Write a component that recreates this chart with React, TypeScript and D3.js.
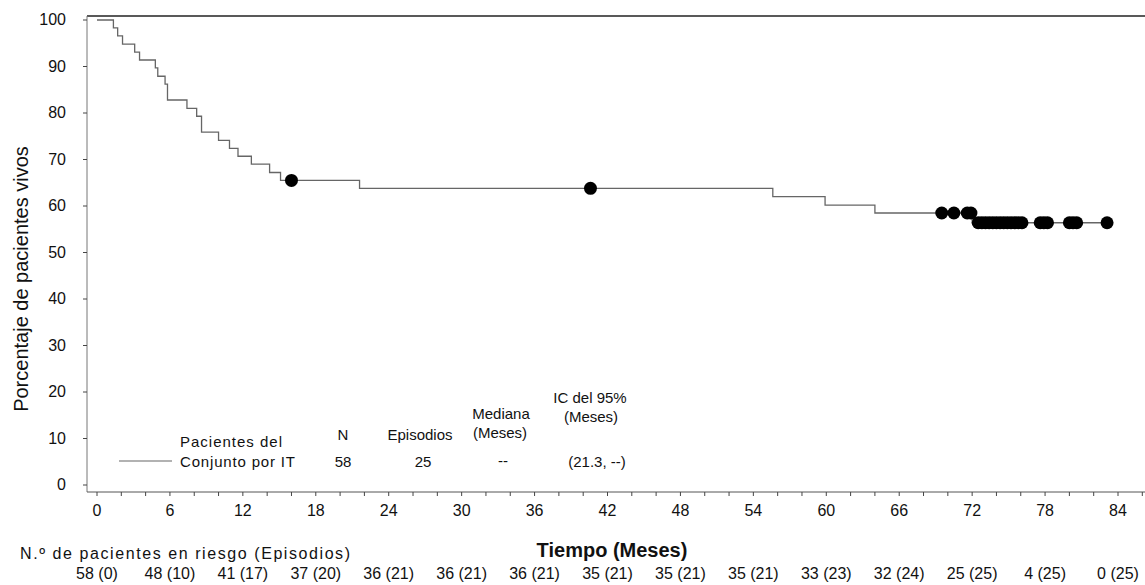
import * as d3 from 'd3'

// Kaplan-Meier steps (time in months, % alive after the drop)
const stepTimes = [0, 1.35, 1.7, 2.1, 3.1, 3.5, 4.8, 5.0, 5.6, 5.8, 7.4, 8.2, 8.6, 10.0, 10.9, 11.6, 12.7, 14.2, 15.1, 21.6, 55.6, 59.9, 64.0, 72.0]
const stepSurvival = [100, 98.3, 96.6, 94.8, 93.1, 91.4, 89.7, 87.9, 86.2, 82.8, 81.0, 79.3, 75.9, 74.1, 72.4, 70.7, 69.0, 67.2, 65.5, 63.8, 62.0, 60.2, 58.5, 56.4]
const lastFollowUp = 83.1

// censored patients
const censorTimes = [16.0, 40.6, 69.5, 70.5, 71.6, 71.9, 72.5, 72.8, 73.1, 73.4, 73.7, 74.0, 74.3, 74.6, 74.9, 75.2, 75.5, 75.8, 76.1, 77.6, 77.9, 78.2, 80.0, 80.3, 80.6, 83.1]

const xTicks = [0, 6, 12, 18, 24, 30, 36, 42, 48, 54, 60, 66, 72, 78, 84]
const yTicks = [0, 10, 20, 30, 40, 50, 60, 70, 80, 90, 100]
const atRisk = ['58 (0)', '48 (10)', '41 (17)', '37 (20)', '36 (21)', '36 (21)', '36 (21)', '35 (21)', '35 (21)', '35 (21)', '33 (23)', '32 (24)', '25 (25)', '4 (25)', '0 (25)']

const FONT = '"Liberation Sans", Arial, sans-serif'

export default function App() {
  const x = d3.scaleLinear().domain([0, 84]).range([97, 1118])
  const y = d3.scaleLinear().domain([0, 100]).range([485, 20])

  const left = 87, right = 1145, top = 16, bottom = 492

  const survAt = (t: number) => {
    const i = d3.bisectRight(stepTimes, t) - 1
    return stepSurvival[Math.max(0, i)]
  }

  const pts: [number, number][] = stepTimes.map((t, i) => [t, stepSurvival[i]])
  pts.push([lastFollowUp, stepSurvival[stepSurvival.length - 1]])
  const line = d3.line<[number, number]>()
    .x(d => x(d[0]))
    .y(d => y(d[1]))
    .curve(d3.curveStepAfter)

  const minorX = d3.range(0, 87, 2)

  return (
    <svg width={1145} height={585} style={{ position: 'fixed', left: 0, top: 0, background: '#fff' }} fontFamily={FONT}>
      {/* frame */}
      <line x1={left} x2={right} y1={top} y2={top} stroke="#222" strokeWidth={1.6} />
      <line x1={left} x2={left} y1={top} y2={bottom} stroke="#777" strokeWidth={1} />
      <line x1={left} x2={right} y1={bottom} y2={bottom} stroke="#555" strokeWidth={1} />

      {/* y axis */}
      {yTicks.map(t => (
        <g key={'y' + t}>
          <line x1={left - 4} x2={left} y1={y(t)} y2={y(t)} stroke="#444" />
          <text x={66} y={y(t) + 5} textAnchor="end" fontSize={16} fill="#111">{t}</text>
        </g>
      ))}
      <text transform={`translate(28,279) rotate(-90)`} textAnchor="middle" fontSize={20} fill="#111">Porcentaje de pacientes vivos</text>

      {/* x axis */}
      {minorX.map(t => (
        <line key={'m' + t} x1={x(t)} x2={x(t)} y1={bottom} y2={bottom + 4} stroke="#444" />
      ))}
      {xTicks.map(t => (
        <text key={'x' + t} x={x(t)} y={516} textAnchor="middle" fontSize={16} fill="#111">{t}</text>
      ))}
      <text x={612} y={557} textAnchor="middle" fontSize={20} fontWeight="bold" fill="#111">Tiempo (Meses)</text>
      <text x={20} y={559} fontSize={16} fill="#111" textLength={330} lengthAdjust="spacing">N.º de pacientes en riesgo (Episodios)</text>
      {atRisk.map((s, i) => (
        <text key={'r' + i} x={x(xTicks[i])} y={579} textAnchor="middle" fontSize={16} fill="#111">{s}</text>
      ))}

      {/* curve */}
      <path d={line(pts) ?? ''} fill="none" stroke="#666" strokeWidth={1.3} />
      {censorTimes.map((t, i) => (
        <circle key={'c' + i} cx={x(t)} cy={y(survAt(t))} r={6.5} fill="#000" />
      ))}

      {/* legend */}
      <g fontSize={15} fill="#111">
        <line x1={119} x2={172} y1={461} y2={461} stroke="#666" strokeWidth={1.2} />
        <text x={180} y={447} textLength={102} lengthAdjust="spacing">Pacientes del</text>
        <text x={180} y={467} textLength={115} lengthAdjust="spacing">Conjunto por IT</text>
        <text x={343} y={440} textAnchor="middle">N</text>
        <text x={343} y={467} textAnchor="middle">58</text>
        <text x={420} y={440} textAnchor="middle">Episodios</text>
        <text x={423} y={467} textAnchor="middle">25</text>
        <text x={501} y={419} textAnchor="middle">Mediana</text>
        <text x={500} y={438} textAnchor="middle">(Meses)</text>
        <text x={503} y={466} textAnchor="middle">--</text>
        <text x={590} y={403} textAnchor="middle">IC del 95%</text>
        <text x={591} y={422} textAnchor="middle">(Meses)</text>
        <text x={597} y={467} textAnchor="middle">(21.3, --)</text>
      </g>
    </svg>
  )
}
